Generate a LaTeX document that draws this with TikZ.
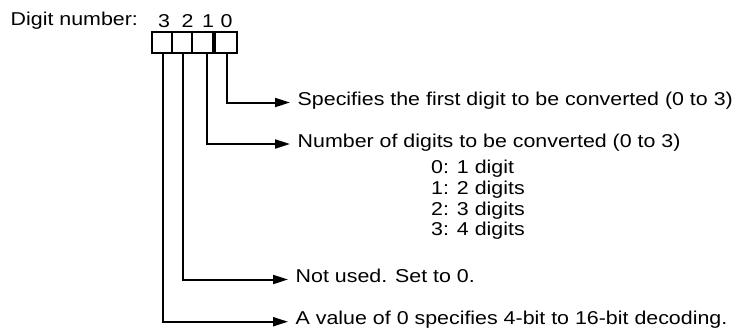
\documentclass[tikz,border=0pt]{standalone}
\usepackage{fontspec}
\setmainfont{Liberation Sans}[FakeStretch=1.15]
\usetikzlibrary{arrows.meta}
\begin{document}
\begin{tikzpicture}[x=1pt,y=-1pt,
  every node/.style={font=\fontsize{18.6}{20.7}\selectfont},
  bitbox/.style={draw,line width=2pt,minimum width=20.3pt,minimum height=21pt,inner sep=0pt},
  desc/.style={anchor=west,inner xsep=7.5pt,inner ysep=0pt,text height=0.8em,text depth=0.2em},
  plain/.style={inner sep=0pt},
  conn/.style={line width=2pt,-{Triangle[length=15pt,width=9pt]}}]
\useasboundingbox (0,0) rectangle (735,333);
% label
\node[plain,anchor=base west] (lbl) at (10.5,25.7) {Digit number:};
% digit numbers
\node[plain,anchor=base] (d3) at (164,27) {3};
\node[plain,anchor=base] (d2) at (187.5,27) {2};
\node[plain,anchor=base] (d1) at (208,27) {1};
\node[plain,anchor=base] (d0) at (226.5,27) {0};
% boxes
\node[bitbox] (b3) at (161.85,42.5) {};
\node[bitbox] (b2) at (182.15,42.5) {};
\node[bitbox] (b1) at (202.45,42.5) {};
\node[bitbox,minimum width=22pt] (b0) at (225.6,42.5) {};
% descriptions
\node[desc] (t0) at (290,102.5) {Specifies the first digit to be converted (0 to 3)};
\node[desc] (t1) at (290,144) {Number of digits to be converted (0 to 3)};
\node[plain,anchor=north west,align=left] (lst) at (431,160) {0: 1 digit\\1: 2 digits\\2: 3 digits\\3: 4 digits};
\node[desc] (t2) at (288,279.5) {Not used. Set to 0.};
\node[desc] (t3) at (288,321.7) {A value of 0 specifies 4-bit to 16-bit decoding.};
% connectors
\draw[conn] ([xshift=1pt]b0.south) |- (t0.west);
\draw[conn] ([xshift=5pt]b1.south) |- (t1.west);
\draw[conn] ([xshift=0.8pt]b2.south) |- (t2.west);
\draw[conn] ([xshift=0.8pt]b3.south) |- (t3.west);
\end{tikzpicture}
\end{document}
